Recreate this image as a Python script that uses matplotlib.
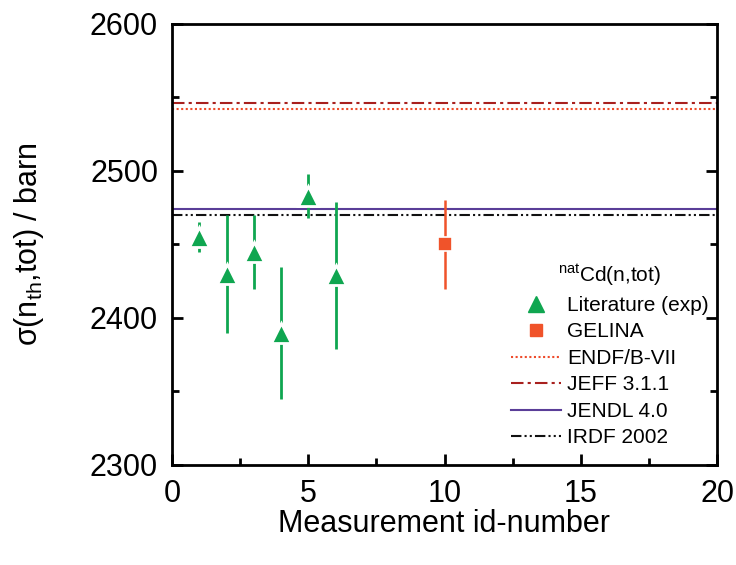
import matplotlib
matplotlib.use("Agg")
import matplotlib.pyplot as plt
from matplotlib.lines import Line2D
from matplotlib.ticker import MultipleLocator

plt.rcParams["font.family"] = ["Liberation Sans", "DejaVu Sans"]
plt.rcParams["mathtext.fontset"] = "custom"
plt.rcParams["mathtext.rm"] = "Liberation Sans"
plt.rcParams["mathtext.it"] = "Liberation Sans:italic"

# literature measurements
lit_id = [1, 2, 3, 4, 5, 6]
lit_val = [2455, 2430, 2445, 2390, 2483, 2429]
lit_err = [10, 40, 25, 45, 15, 50]

# GELINA measurement
gel_id = [10]
gel_val = [2450]
gel_err = [30]

# evaluated libraries
lib_names = ["ENDF/B-VII", "JEFF 3.1.1", "JENDL 4.0", "IRDF 2002"]
lib_vals = [2542, 2546, 2474, 2470]
lib_colors = ["#EE4B2B", "#A8201E", "#5A3E98", "#111111"]
lib_styles = [(0, (1, 1.2)), (0, (6, 2, 1.5, 2)), "-", (0, (5, 1.5, 1, 1.5, 1, 1.5))]

green = "#0FA650"
red = "#F0532A"

fig = plt.figure(figsize=(7.36, 5.65), dpi=100)
ax = fig.add_axes([172 / 736, 1 - 465 / 565, 545 / 736, 441 / 565])

ax.errorbar(lit_id, lit_val, yerr=lit_err, fmt="^", color=green,
            markersize=15, markeredgecolor="white", markeredgewidth=2,
            elinewidth=2, capsize=0, zorder=3)
ax.errorbar(gel_id, gel_val, yerr=gel_err, fmt="s", color=red,
            markersize=10, markeredgecolor="white", markeredgewidth=1.2,
            elinewidth=1.8, capsize=0, zorder=3)

handles = [
    Line2D([], [], linestyle="none", marker="^", color=green, markersize=12,
           label="Literature (exp)"),
    Line2D([], [], linestyle="none", marker="s", color=red, markersize=9,
           label="GELINA"),
]
for name, v, c, ls in zip(lib_names, lib_vals, lib_colors, lib_styles):
    ax.axhline(v, color=c, linestyle=ls, linewidth=1.5, zorder=2)
    handles.append(Line2D([], [], color=c, linestyle=ls, linewidth=1.5, label=name))

ax.set_xlim(0, 20)
ax.set_ylim(2300, 2600)
ax.xaxis.set_major_locator(MultipleLocator(5))
ax.xaxis.set_minor_locator(MultipleLocator(2.5))
ax.yaxis.set_major_locator(MultipleLocator(100))
ax.yaxis.set_minor_locator(MultipleLocator(50))
ax.tick_params(which="both", direction="in", width=2, labelsize=22,
               right=True, top=False)
ax.tick_params(which="major", length=8, pad=10)
ax.tick_params(which="minor", length=5)
for s in ax.spines.values():
    s.set_linewidth(2)

ax.set_xlabel("Measurement id-number", fontsize=22, labelpad=0)
ax.set_ylabel(r"σ(n$_{\rm th}$,tot) / barn", fontsize=22, labelpad=32)

ax.legend(handles=handles, loc="lower right", bbox_to_anchor=(0.985, 0.04),
          frameon=False, fontsize=15, title=r"$^{\rm nat}$Cd(n,tot)",
          title_fontsize=15, handlelength=2.4, handletextpad=0.3,
          labelspacing=0.36, borderpad=0, borderaxespad=0)

fig.savefig("out.png", dpi=100)
